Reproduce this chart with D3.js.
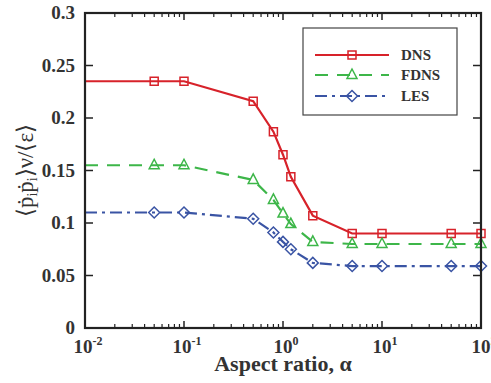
<!DOCTYPE html>
<html>
<head>
<meta charset="utf-8">
<script src="https://cdn.jsdelivr.net/npm/d3@7"></script>
<style>
  body { margin: 0; background: #fff; }
  svg { font-family: "Liberation Serif", "Times New Roman", serif; }
</style>
</head>
<body>
<div id="chart"></div>
<script>
// aspect ratio values (first point has no marker, it is the edge of the plot)
const alphas = [0.01, 0.05, 0.1, 0.5, 0.8, 1.0, 1.2, 2, 5, 10, 50, 100]
const dns  = [0.235, 0.235, 0.235, 0.216, 0.187, 0.165, 0.144, 0.107, 0.090, 0.090, 0.090, 0.090]
const fdns = [0.155, 0.155, 0.155, 0.141, 0.122, 0.109, 0.099, 0.082, 0.080, 0.080, 0.080, 0.080]
const les  = [0.110, 0.110, 0.110, 0.104, 0.091, 0.082, 0.075, 0.062, 0.059, 0.059, 0.059, 0.059]
const seriesNames = ['DNS', 'FDNS', 'LES']
const yTicks = [0, 0.05, 0.1, 0.15, 0.2, 0.25, 0.3]
const xDecades = [-2, -1, 0, 1, 2]

const width = 491
const height = 383
const margin = {left: 85, right: 10, top: 13, bottom: 55}

const series = [
  {name: 'DNS', values: dns, color: '#d7222a', dash: null, marker: 'square'},
  {name: 'FDNS', values: fdns, color: '#3db649', dash: '13,9', marker: 'triangle'},
  {name: 'LES', values: les, color: '#3a54a4', dash: '12,5,3,5', marker: 'diamond'}
]

const svg = d3.select('#chart').append('svg')
  .attr('width', width)
  .attr('height', height)

const x = d3.scaleLog()
  .domain([0.01, 100])
  .range([margin.left, width - margin.right])
const y = d3.scaleLinear()
  .domain([0, 0.3])
  .range([height - margin.bottom, margin.top])

const x0 = x.range()[0], x1 = x.range()[1]
const y0 = y.range()[0], y1 = y.range()[1]
const axisColor = '#222'
const textColor = '#333'

// markers
const markerPath = (type) => {
  if (type == 'square') return 'M-4,-4H4V4H-4Z'
  if (type == 'triangle') return 'M0,-6L5,3.5H-5Z'
  return 'M0,-5.5L5.5,0L0,5.5L-5.5,0Z'
}

const line = d3.line()
  .x(d => x(d[0]))
  .y(d => y(d[1]))

series.forEach(s => {
  const pts = alphas.map((a, i) => [a, s.values[i]])
  const g = svg.append('g')
  g.append('path')
    .datum(pts)
    .attr('d', line)
    .attr('fill', 'none')
    .attr('stroke', s.color)
    .attr('stroke-width', 2.2)
    .attr('stroke-dasharray', s.dash)
  g.selectAll('.mk')
    .data(pts.slice(1))
    .enter()
    .append('path')
      .attr('class', 'mk')
      .attr('transform', d => `translate(${x(d[0])},${y(d[1])})`)
      .attr('d', markerPath(s.marker))
      .attr('fill', 'none')
      .attr('stroke', s.color)
      .attr('stroke-width', 1.5)
})

// frame
svg.append('rect')
  .attr('x', x0).attr('y', y1)
  .attr('width', x1 - x0).attr('height', y0 - y1)
  .attr('fill', 'none')
  .attr('stroke', axisColor)
  .attr('stroke-width', 2.2)

// y ticks, inward on both sides
yTicks.forEach(t => {
  svg.append('line')
    .attr('x1', x0).attr('x2', x0 + 8)
    .attr('y1', y(t)).attr('y2', y(t))
    .attr('stroke', axisColor).attr('stroke-width', 1.5)
  svg.append('line')
    .attr('x1', x1).attr('x2', x1 - 8)
    .attr('y1', y(t)).attr('y2', y(t))
    .attr('stroke', axisColor).attr('stroke-width', 1.5)
  svg.append('text')
    .attr('x', x0 - 10)
    .attr('y', y(t) + 6)
    .attr('text-anchor', 'end')
    .attr('font-size', 19)
    .attr('font-weight', 'bold')
    .attr('fill', textColor)
    .text(String(t))
})

// x ticks, decades and minor ones, inward on bottom and top
xDecades.forEach((e, k) => {
  const v = Math.pow(10, e)
  ;[[y0, -1], [y1, 1]].forEach(([base, dir]) => {
    svg.append('line')
      .attr('x1', x(v)).attr('x2', x(v))
      .attr('y1', base).attr('y2', base + dir * 7)
      .attr('stroke', axisColor).attr('stroke-width', 1.5)
  })
  if (k < xDecades.length - 1) {
    for (let m = 2; m <= 9; m++) {
      ;[[y0, -1], [y1, 1]].forEach(([base, dir]) => {
        svg.append('line')
          .attr('x1', x(m * v)).attr('x2', x(m * v))
          .attr('y1', base).attr('y2', base + dir * 4)
          .attr('stroke', axisColor).attr('stroke-width', 1.2)
      })
    }
  }
  const lab = svg.append('text')
    .attr('x', x(v) + 3)
    .attr('y', y0 + 25)
    .attr('text-anchor', 'middle')
    .attr('font-size', 19)
    .attr('font-weight', 'bold')
    .attr('fill', textColor)
  lab.append('tspan').text('10')
  lab.append('tspan')
    .attr('dy', -8)
    .attr('font-size', 12)
    .text(String(e).replace('-', '-'))
})

// axis titles
svg.append('text')
  .attr('x', (x0 + x1) / 2)
  .attr('y', 371)
  .attr('text-anchor', 'middle')
  .attr('font-size', 22)
  .attr('font-weight', 'bold')
  .attr('fill', textColor)
  .text('Aspect ratio, α')

const yt = svg.append('text')
  .attr('transform', `translate(33,${(y0 + y1) / 2}) rotate(-90)`)
  .attr('text-anchor', 'middle')
  .attr('font-size', 23)
  .attr('fill', textColor)
yt.append('tspan').text('⟨ṗ')
yt.append('tspan').attr('font-size', 14).attr('dy', 4).text('i')
yt.append('tspan').attr('dy', -4).text('ṗ')
yt.append('tspan').attr('font-size', 14).attr('dy', 4).text('i')
yt.append('tspan').attr('dy', -4).text('⟩ν/⟨ε⟩')

// legend
const lg = svg.append('g')
lg.append('rect')
  .attr('x', 303).attr('y', 28)
  .attr('width', 154).attr('height', 87)
  .attr('fill', '#fff')
  .attr('stroke', '#444')
  .attr('stroke-width', 1.2)
const legendY = [55, 75, 96]
series.forEach((s, i) => {
  lg.append('line')
    .attr('x1', 315).attr('x2', 389)
    .attr('y1', legendY[i]).attr('y2', legendY[i])
    .attr('stroke', s.color)
    .attr('stroke-width', 2.2)
    .attr('stroke-dasharray', s.dash)
  lg.append('path')
    .attr('transform', `translate(352,${legendY[i]})`)
    .attr('d', markerPath(s.marker))
    .attr('fill', 'none')
    .attr('stroke', s.color)
    .attr('stroke-width', 1.5)
  lg.append('text')
    .attr('x', 401)
    .attr('y', legendY[i] + 5)
    .attr('font-size', 15)
    .attr('font-weight', 'bold')
    .attr('fill', textColor)
    .text(seriesNames[i])
})
</script>
</body>
</html>
